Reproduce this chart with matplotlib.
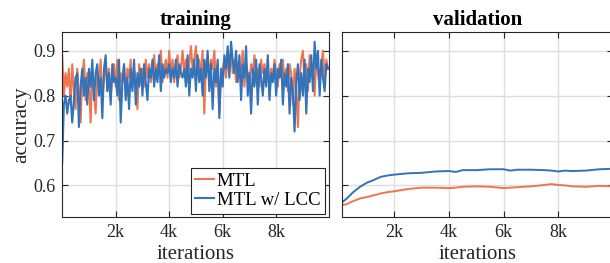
import numpy as np
import matplotlib
matplotlib.use("Agg")
import matplotlib.pyplot as plt

plt.rcParams['font.family'] = ['Liberation Serif', 'DejaVu Serif']
plt.rcParams['mathtext.fontset'] = 'stix'

# ---------------- data ----------------
train_iters = np.arange(0, 10000, 62.5)

train_mtl = [
    0.89, 0.80, 0.85, 0.82, 0.86, 0.78, 0.87, 0.81, 0.77, 0.86, 0.80, 0.74, 0.84, 0.88, 0.79, 0.85,
    0.83, 0.74, 0.86, 0.81, 0.76, 0.85, 0.82, 0.88, 0.79, 0.84, 0.88, 0.81, 0.86, 0.80, 0.84, 0.87,
    0.82, 0.88, 0.79, 0.85, 0.83, 0.87, 0.80, 0.86, 0.84, 0.88, 0.82, 0.86, 0.83, 0.77, 0.87, 0.84,
    0.86, 0.82, 0.88, 0.84, 0.87, 0.83, 0.86, 0.89, 0.84, 0.87, 0.85, 0.90, 0.83, 0.86, 0.88, 0.84,
    0.90, 0.85, 0.88, 0.83, 0.87, 0.89, 0.84, 0.86, 0.90, 0.85, 0.88, 0.83, 0.87, 0.91, 0.86, 0.88,
    0.91, 0.85, 0.88, 0.84, 0.90, 0.76, 0.87, 0.89, 0.84, 0.88, 0.86, 0.90, 0.82, 0.87, 0.76, 0.85,
    0.86, 0.88, 0.84, 0.89, 0.86, 0.90, 0.85, 0.88, 0.83, 0.87, 0.84, 0.86, 0.90, 0.82, 0.87, 0.85,
    0.83, 0.87, 0.85, 0.89, 0.84, 0.86, 0.82, 0.88, 0.85, 0.87, 0.83, 0.88, 0.80, 0.86, 0.84, 0.88,
    0.85, 0.82, 0.87, 0.84, 0.88, 0.83, 0.86, 0.81, 0.87, 0.85, 0.78, 0.86, 0.82, 0.73, 0.84, 0.88,
    0.90, 0.83, 0.87, 0.81, 0.89, 0.84, 0.86, 0.80, 0.88, 0.85, 0.82, 0.87, 0.90, 0.83, 0.88, 0.86,
]

train_lcc = [
    0.65, 0.78, 0.80, 0.76, 0.79, 0.80, 0.74, 0.79, 0.84, 0.85, 0.73, 0.82, 0.86, 0.80, 0.84, 0.78,
    0.86, 0.82, 0.88, 0.79, 0.85, 0.87, 0.80, 0.84, 0.75, 0.86, 0.89, 0.81, 0.85, 0.78, 0.87, 0.83,
    0.84, 0.80, 0.88, 0.74, 0.83, 0.87, 0.79, 0.84, 0.77, 0.86, 0.81, 0.88, 0.78, 0.85, 0.82, 0.86,
    0.80, 0.87, 0.83, 0.79, 0.86, 0.84, 0.88, 0.82, 0.86, 0.83, 0.89, 0.81, 0.87, 0.84, 0.86, 0.85,
    0.87, 0.83, 0.86, 0.84, 0.88, 0.82, 0.87, 0.85, 0.84, 0.86, 0.82, 0.89, 0.80, 0.86, 0.84, 0.88,
    0.81, 0.89, 0.83, 0.86, 0.80, 0.88, 0.84, 0.90, 0.81, 0.87, 0.77, 0.86, 0.83, 0.88, 0.75, 0.86,
    0.82, 0.89, 0.86, 0.91, 0.84, 0.92, 0.88, 0.85, 0.90, 0.83, 0.89, 0.79, 0.87, 0.84, 0.91, 0.80,
    0.85, 0.76, 0.86, 0.82, 0.88, 0.78, 0.87, 0.84, 0.80, 0.86, 0.82, 0.89, 0.79, 0.85, 0.83, 0.87,
    0.80, 0.86, 0.84, 0.88, 0.78, 0.85, 0.82, 0.87, 0.76, 0.84, 0.81, 0.72, 0.83, 0.87, 0.79, 0.85,
    0.80, 0.88, 0.76, 0.86, 0.83, 0.89, 0.81, 0.92, 0.86, 0.90, 0.80, 0.88, 0.84, 0.81, 0.87, 0.86,
]

val_iters = [0, 250, 500, 750, 1000, 1250, 1500, 1750, 2000, 2500, 3000, 3500, 4000, 4250,
             4500, 5000, 5500, 6000, 6250, 6500, 7000, 7500, 7750, 8000, 8250, 8500, 9000,
             9500, 10000]
val_lcc = [0.558, 0.570, 0.585, 0.597, 0.606, 0.612, 0.619, 0.622, 0.624, 0.627, 0.628, 0.631,
           0.632, 0.630, 0.634, 0.634, 0.636, 0.636, 0.633, 0.635, 0.635, 0.634, 0.633, 0.631,
           0.633, 0.632, 0.633, 0.636, 0.637]
val_mtl = [0.555, 0.558, 0.565, 0.571, 0.574, 0.578, 0.582, 0.585, 0.587, 0.592, 0.595, 0.595,
           0.594, 0.595, 0.597, 0.598, 0.597, 0.594, 0.595, 0.596, 0.598, 0.601, 0.603, 0.601,
           0.600, 0.598, 0.597, 0.599, 0.598]

xticks = [2000, 4000, 6000, 8000]
xticklabels = ['2k', '4k', '6k', '8k']
yticks = [0.6, 0.7, 0.8, 0.9]
labels = ['MTL', 'MTL w/ LCC']

c_mtl = '#EF7550'
c_lcc = '#3273B9'

# ---------------- figure ----------------
W, H = 610, 263
fig = plt.figure(figsize=(W / 100, H / 100), dpi=100)

def px_axes(l, r, t, b):
    return fig.add_axes([l / W, (H - b) / H, (r - l) / W, (b - t) / H])

ax1 = px_axes(62.2, 329.0, 32.3, 217.3)
ax2 = px_axes(342.0, 613.0, 32.3, 217.3)

ax1.plot(train_iters, train_mtl, color=c_mtl, lw=1.5, label=labels[0])
ax1.plot(train_iters, train_lcc, color=c_lcc, lw=1.5, label=labels[1])
ax2.plot(val_iters, val_mtl, color=c_mtl, lw=1.4)
ax2.plot(val_iters, val_lcc, color=c_lcc, lw=1.4)

ax1.set_xlim(0, 9975)
ax2.set_xlim(90, 10000)

for ax in (ax1, ax2):
    ax.set_ylim(0.529, 0.941)
    ax.set_xticks(xticks)
    ax.set_xticklabels(xticklabels)
    ax.set_yticks(yticks)
    ax.grid(True, color='#DEDEDE', lw=1.0)
    ax.set_axisbelow(True)
    ax.tick_params(direction='in', length=4, width=0.8, top=True, right=True,
                   labelsize=13, colors='#262626', pad=5)
    for s in ax.spines.values():
        s.set_color('#262626')
        s.set_linewidth(0.8)
    ax.set_xlabel('iterations', fontsize=15, color='#262626', labelpad=3)

ax1.set_yticklabels(['0.6', '0.7', '0.8', '0.9'])
ax2.set_yticklabels([])
ax1.set_ylabel('accuracy', fontsize=15.5, color='#262626', labelpad=1)
ax1.set_title('training', fontsize=15, fontweight='bold', pad=5)
ax2.set_title('validation', fontsize=15, fontweight='bold', pad=5)

leg = ax1.legend(loc='lower right', fontsize=13.5, frameon=True, fancybox=False,
                 handlelength=1.0, handletextpad=0.15, borderpad=0.25, labelspacing=0.1,
                 borderaxespad=0.2)
leg.get_frame().set_edgecolor('#262626')
leg.get_frame().set_linewidth(0.8)
leg.get_frame().set_alpha(1.0)

fig.savefig('out.png', dpi=100)
